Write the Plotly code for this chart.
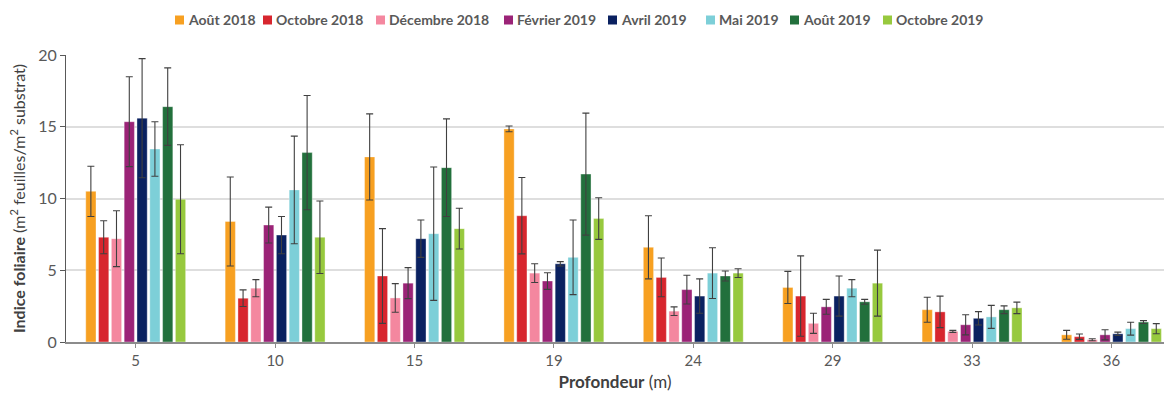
import plotly.graph_objects as go

# Depth categories (m)
profondeurs = ["5", "10", "15", "19", "24", "29", "33", "36"]

# Survey campaigns
campagnes = ["Août 2018", "Octobre 2018", "Décembre 2018", "Février 2019",
             "Avril 2019", "Mai 2019", "Août 2019", "Octobre 2019"]

couleurs = ["#F7A021", "#D7262E", "#F4879F", "#9B2377",
            "#0A2160", "#7DCFD8", "#22703C", "#97C93E"]

# Mean leaf area index per campaign, one value per depth
aout_2018 = [10.5, 8.4, 12.9, 14.85, 6.6, 3.8, 2.25, 0.5]
octobre_2018 = [7.3, 3.05, 4.6, 8.8, 4.5, 3.2, 2.1, 0.37]
decembre_2018 = [7.2, 3.75, 3.07, 4.8, 2.15, 1.3, 0.74, 0.16]
fevrier_2019 = [15.35, 8.15, 4.1, 4.25, 3.65, 2.45, 1.2, 0.5]
avril_2019 = [15.6, 7.45, 7.2, 5.45, 3.2, 3.2, 1.65, 0.57]
mai_2019 = [13.45, 10.6, 7.55, 5.9, 4.8, 3.75, 1.75, 0.93]
aout_2019 = [16.4, 13.2, 12.15, 11.7, 4.6, 2.8, 2.25, 1.39]
octobre_2019 = [9.95, 7.3, 7.9, 8.6, 4.8, 4.1, 2.38, 0.93]

# Standard deviations (symmetric error bars)
et_aout_2018 = [1.75, 3.1, 3.0, 0.2, 2.2, 1.12, 0.87, 0.31]
et_octobre_2018 = [1.15, 0.58, 3.3, 2.66, 1.35, 2.8, 1.1, 0.19]
et_decembre_2018 = [1.95, 0.6, 1.0, 0.65, 0.3, 0.7, 0.07, 0.07]
et_fevrier_2019 = [3.13, 1.25, 1.08, 0.58, 1.0, 0.52, 0.7, 0.35]
et_avril_2019 = [4.15, 1.3, 1.3, 0.15, 1.2, 1.4, 0.47, 0.12]
et_mai_2019 = [1.9, 3.75, 4.65, 2.6, 1.77, 0.6, 0.8, 0.45]
et_aout_2019 = [2.7, 3.98, 3.4, 4.25, 0.35, 0.17, 0.27, 0.1]
et_octobre_2019 = [3.8, 2.53, 1.42, 1.45, 0.3, 2.3, 0.4, 0.35]

series = [aout_2018, octobre_2018, decembre_2018, fevrier_2019,
          avril_2019, mai_2019, aout_2019, octobre_2019]
ecarts = [et_aout_2018, et_octobre_2018, et_decembre_2018, et_fevrier_2019,
          et_avril_2019, et_mai_2019, et_aout_2019, et_octobre_2019]

police = "Lato"
gris_texte = "#595959"
largeur, hauteur = 1164, 394
marge_g, marge_d, marge_h, marge_b = 66, 0, 55, 52
larg_trace = largeur - marge_g - marge_d
haut_trace = hauteur - marge_h - marge_b

fig = go.Figure()
for nom, couleur, valeurs, et in zip(campagnes, couleurs, series, ecarts):
    fig.add_trace(go.Bar(
        name=nom,
        x=profondeurs,
        y=valeurs,
        showlegend=False,
        marker=dict(color=couleur, line=dict(color="rgba(255,255,255,0.6)", width=0.6)),
        error_y=dict(type="data", array=et, visible=True,
                     color="#404040", thickness=1.1, width=3.5),
    ))

# Compact key across the top: a small colour square followed by its label.
def px_x(px):
    return (px - marge_g) / larg_trace

def px_y(py):
    return (hauteur - marge_b - py) / haut_trace

carres_gauche = [175, 263, 376, 504, 608, 706, 790, 883]
cote, y_centre = 9, 20
for nom, couleur, xg in zip(campagnes, couleurs, carres_gauche):
    fig.add_shape(type="rect", xref="paper", yref="paper",
                  x0=px_x(xg), x1=px_x(xg + cote),
                  y0=px_y(y_centre + cote / 2), y1=px_y(y_centre - cote / 2),
                  fillcolor=couleur, line=dict(width=0))
    fig.add_annotation(xref="paper", yref="paper",
                       x=px_x(xg + cote + 2), y=px_y(y_centre),
                       xanchor="left", yanchor="middle", showarrow=False,
                       text=f"<b>{nom}</b>",
                       font=dict(family=police, size=14, color=gris_texte))

fig.update_layout(
    width=largeur,
    height=hauteur,
    barmode="group",
    bargap=0.265,
    bargroupgap=0.2,
    plot_bgcolor="white",
    paper_bgcolor="white",
    margin=dict(l=marge_g, r=marge_d, t=marge_h, b=marge_b),
    font=dict(family=police, color=gris_texte),
)

fig.update_xaxes(
    type="category",
    range=[-0.5, 7.377],
    showline=True,
    linecolor="#8c8c8c",
    linewidth=2,
    ticks="outside",
    ticklen=4,
    tickcolor="#8c8c8c",
    tickfont=dict(family=police, size=15, color=gris_texte),
    showgrid=False,
    title=dict(text="<b>Profondeur</b> (m)",
               font=dict(family=police, size=17, color="#404040"),
               standoff=8),
)

fig.update_yaxes(
    range=[0, 20],
    tickvals=[0, 5, 10, 15, 20],
    showline=True,
    linecolor="#595959",
    linewidth=1,
    ticks="outside",
    ticklen=5,
    tickcolor="#595959",
    tickfont=dict(family=police, size=16, color=gris_texte),
    showgrid=True,
    gridcolor="#dedede",
    gridwidth=1.5,
    zeroline=False,
    title=dict(text="<b>Indice foliaire</b> (m<sup>2</sup> feuilles/m<sup>2</sup> substrat)",
               font=dict(family=police, size=16, color="#404040"),
               standoff=8),
)

fig.write_html("out.html")
